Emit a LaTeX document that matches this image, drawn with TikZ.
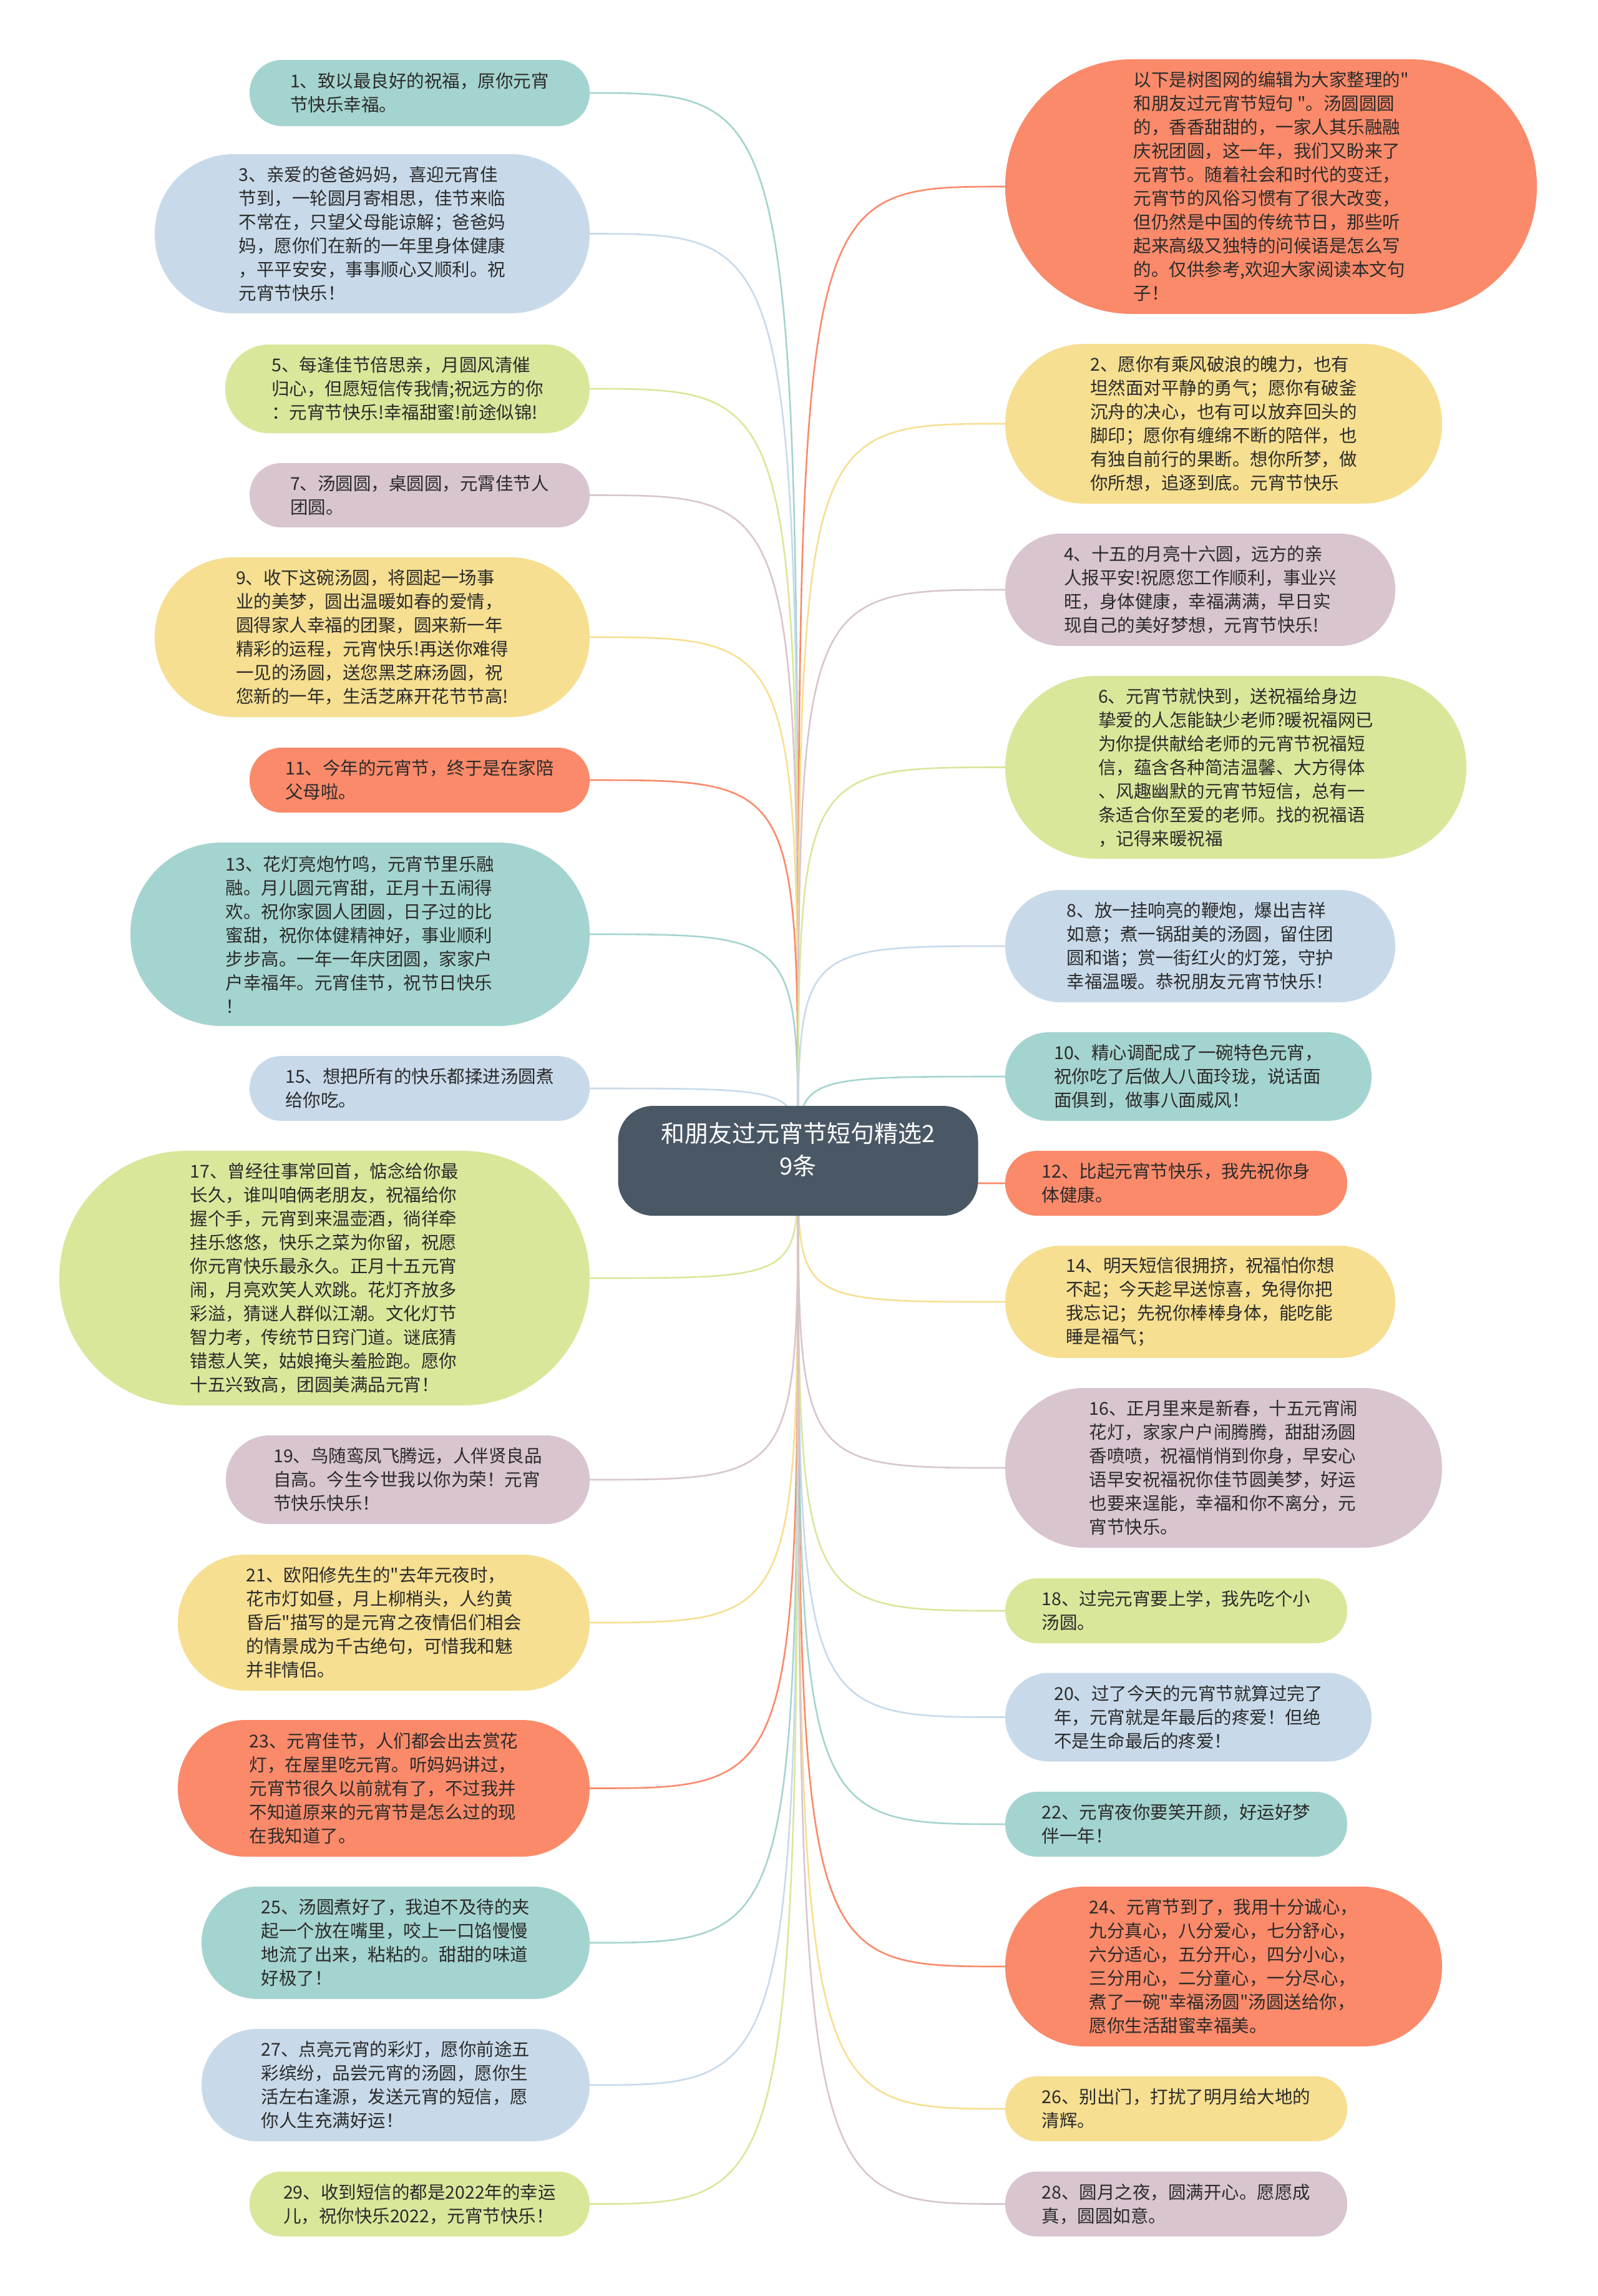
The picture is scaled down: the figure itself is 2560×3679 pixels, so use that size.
\documentclass[tikz,border=0pt]{standalone}
\usepackage{fontspec}
\setmainfont{Noto Sans CJK SC}
\newfontfamily\zh{Noto Sans CJK SC}
\usetikzlibrary{backgrounds}
\definecolor{cTeal}{HTML}{A4D4CF}
\definecolor{cBlue}{HTML}{C8DAEA}
\definecolor{cGreen}{HTML}{D9E79B}
\definecolor{cMauve}{HTML}{D8C5D0}
\definecolor{cYellow}{HTML}{F6DF91}
\definecolor{cOrange}{HTML}{FA8A6A}
\definecolor{cRoot}{HTML}{4A5866}
\definecolor{cText}{HTML}{2B2B2B}
\tikzset{
  leaf/.style={align=left, inner sep=0pt, text=cText, font=\zh\fontsize{28.5}{38}\selectfont},
  pill/.style 2 args={leaf, minimum width=#1, minimum height=#2, rounded corners=#2/2-1},
  rootbox/.style={align=center, inner sep=0pt, text=white, fill=cRoot, minimum width=577, minimum height=176, rounded corners=56, font=\zh\fontsize{38}{52}\selectfont},
  link/.style={line width=2.6pt}
}
\begin{document}
\begin{tikzpicture}[x=1pt,y=-1pt]
\useasboundingbox (0,0) rectangle (2560,3679);
% root
\node[rootbox] (root) at (1279,1860) {和朋友过元宵节短句精选2\\9条\rule[-40pt]{0pt}{0pt}};
% left column
\node[pill={545}{106}, fill=cTeal] (n1) at (672.5,149) {1、致以最良好的祝福，原你元宵\\节快乐幸福。};
\node[pill={697}{255}, fill=cBlue] (n3) at (596.5,374.5) {3、亲爱的爸爸妈妈，喜迎元宵佳\\节到，一轮圆月寄相思，佳节来临\\不常在，只望父母能谅解；爸爸妈\\妈，愿你们在新的一年里身体健康\\，平平安安，事事顺心又顺利。祝\\元宵节快乐！};
\node[pill={584}{142}, fill=cGreen] (n5) at (653,623) {5、每逢佳节倍思亲，月圆风清催\\归心，但愿短信传我情;祝远方的你\\：元宵节快乐!幸福甜蜜!前途似锦!};
\node[pill={545}{103}, fill=cMauve] (n7) at (672.5,793.5) {7、汤圆圆，桌圆圆，元霄佳节人\\团圆。};
\node[pill={697}{256}, fill=cYellow] (n9) at (596.5,1021) {9、收下这碗汤圆，将圆起一场事\\业的美梦，圆出温暖如春的爱情，\\圆得家人幸福的团聚，圆来新一年\\精彩的运程，元宵快乐!再送你难得\\一见的汤圆，送您黑芝麻汤圆，祝\\您新的一年，生活芝麻开花节节高!};
\node[pill={545}{104}, fill=cOrange] (n11) at (672.5,1250) {11、今年的元宵节，终于是在家陪\\父母啦。};
\node[pill={736}{294}, fill=cTeal] (n13) at (577,1497) {13、花灯亮炮竹鸣，元宵节里乐融\\融。月儿圆元宵甜，正月十五闹得\\欢。祝你家圆人团圆，日子过的比\\蜜甜，祝你体健精神好，事业顺利\\步步高。一年一年庆团圆，家家户\\户幸福年。元宵佳节，祝节日快乐\\！};
\node[pill={545}{104}, fill=cBlue] (n15) at (672.5,1744) {15、想把所有的快乐都揉进汤圆煮\\给你吃。};
\node[pill={850}{408}, fill=cGreen] (n17) at (520,2048) {17、曾经往事常回首，惦念给你最\\长久，谁叫咱俩老朋友，祝福给你\\握个手，元宵到来温壶酒，徜徉牵\\挂乐悠悠，快乐之菜为你留，祝愿\\你元宵快乐最永久。正月十五元宵\\闹，月亮欢笑人欢跳。花灯齐放多\\彩溢，猜谜人群似江潮。文化灯节\\智力考，传统节日窍门道。谜底猜\\错惹人笑，姑娘掩头羞脸跑。愿你\\十五兴致高，团圆美满品元宵！};
\node[pill={583}{142}, fill=cMauve] (n19) at (653.5,2371) {19、鸟随鸾凤飞腾远，人伴贤良品\\自高。今生今世我以你为荣！元宵\\节快乐快乐！};
\node[pill={660}{218}, fill=cYellow] (n21) at (615,2600) {21、欧阳修先生的"去年元夜时，\\花市灯如昼，月上柳梢头，人约黄\\昏后"描写的是元宵之夜情侣们相会\\的情景成为千古绝句，可惜我和魅\\并非情侣。};
\node[pill={660}{219}, fill=cOrange] (n23) at (615,2865.5) {23、元宵佳节，人们都会出去赏花\\灯，在屋里吃元宵。听妈妈讲过，\\元宵节很久以前就有了，不过我并\\不知道原来的元宵节是怎么过的现\\在我知道了。};
\node[pill={622}{180}, fill=cTeal] (n25) at (634,3113) {25、汤圆煮好了，我迫不及待的夹\\起一个放在嘴里，咬上一口馅慢慢\\地流了出来，粘粘的。甜甜的味道\\好极了！};
\node[pill={622}{180}, fill=cBlue] (n27) at (634,3341) {27、点亮元宵的彩灯，愿你前途五\\彩缤纷，品尝元宵的汤圆，愿你生\\活左右逢源，发送元宵的短信，愿\\你人生充满好运！};
\node[pill={545}{104}, fill=cGreen] (n29) at (672.5,3531.5) {29、收到短信的都是2022年的幸运\\儿，祝你快乐2022，元宵节快乐！};
% right column
\node[pill={852}{408}, fill=cOrange] (n0) at (2037,299) {以下是树图网的编辑为大家整理的"\\和朋友过元宵节短句 "。汤圆圆圆\\的，香香甜甜的，一家人其乐融融\\庆祝团圆，这一年，我们又盼来了\\元宵节。随着社会和时代的变迁，\\元宵节的风俗习惯有了很大改变，\\但仍然是中国的传统节日，那些听\\起来高级又独特的问候语是怎么写\\的。仅供参考,欢迎大家阅读本文句\\子！};
\node[pill={700}{256}, fill=cYellow] (n2) at (1961,679) {2、愿你有乘风破浪的魄力，也有\\坦然面对平静的勇气；愿你有破釜\\沉舟的决心，也有可以放弃回头的\\脚印；愿你有缠绵不断的陪伴，也\\有独自前行的果断。想你所梦，做\\你所想，追逐到底。元宵节快乐};
\node[pill={625}{180}, fill=cMauve] (n4) at (1923.5,945) {4、十五的月亮十六圆，远方的亲\\人报平安!祝愿您工作顺利，事业兴\\旺，身体健康，幸福满满，早日实\\现自己的美好梦想，元宵节快乐!};
\node[pill={739}{293}, fill=cGreen] (n6) at (1980.5,1229.5) {6、元宵节就快到，送祝福给身边\\挚爱的人怎能缺少老师?暖祝福网已\\为你提供献给老师的元宵节祝福短\\信，蕴含各种简洁温馨、大方得体\\、风趣幽默的元宵节短信，总有一\\条适合你至爱的老师。找的祝福语\\，记得来暖祝福};
\node[pill={625}{180}, fill=cBlue] (n8) at (1923.5,1516) {8、放一挂响亮的鞭炮，爆出吉祥\\如意；煮一锅甜美的汤圆，留住团\\圆和谐；赏一街红火的灯笼，守护\\幸福温暖。恭祝朋友元宵节快乐！};
\node[pill={587}{142}, fill=cTeal] (n10) at (1904.5,1725) {10、精心调配成了一碗特色元宵，\\祝你吃了后做人八面玲珑，说话面\\面俱到，做事八面威风！};
\node[pill={548}{104}, fill=cOrange] (n12) at (1885,1896) {12、比起元宵节快乐，我先祝你身\\体健康。};
\node[pill={625}{180}, fill=cYellow] (n14) at (1923.5,2086) {14、明天短信很拥挤，祝福怕你想\\不起；今天趁早送惊喜，免得你把\\我忘记；先祝你棒棒身体，能吃能\\睡是福气；};
\node[pill={700}{256}, fill=cMauve] (n16) at (1961,2352) {16、正月里来是新春，十五元宵闹\\花灯，家家户户闹腾腾，甜甜汤圆\\香喷喷，祝福悄悄到你身，早安心\\语早安祝福祝你佳节圆美梦，好运\\也要来逞能，幸福和你不离分，元\\宵节快乐。};
\node[pill={548}{104}, fill=cGreen] (n18) at (1885,2581) {18、过完元宵要上学，我先吃个小\\汤圆。};
\node[pill={587}{142}, fill=cBlue] (n20) at (1904.5,2751.5) {20、过了今天的元宵节就算过完了\\年，元宵就是年最后的疼爱！但绝\\不是生命最后的疼爱！};
\node[pill={548}{104}, fill=cTeal] (n22) at (1885,2923) {22、元宵夜你要笑开颜，好运好梦\\伴一年！};
\node[pill={700}{256}, fill=cOrange] (n24) at (1961,3151) {24、元宵节到了，我用十分诚心，\\九分真心，八分爱心，七分舒心，\\六分适心，五分开心，四分小心，\\三分用心，二分童心，一分尽心，\\煮了一碗"幸福汤圆"汤圆送给你，\\愿你生活甜蜜幸福美。};
\node[pill={548}{104}, fill=cYellow] (n26) at (1885,3379) {26、别出门，打扰了明月给大地的\\清辉。};
\node[pill={548}{104}, fill=cMauve] (n28) at (1885,3531.5) {28、圆月之夜，圆满开心。愿愿成\\真，圆圆如意。};
% connectors
\begin{scope}[on background layer]
\fill[white] (0,0) rectangle (2560,3679);
\foreach \n/\c in {n1/cTeal,n3/cBlue,n5/cGreen,n7/cMauve,n9/cYellow,n11/cOrange,n13/cTeal,n15/cBlue,n17/cGreen,n19/cMauve,n21/cYellow,n23/cOrange,n25/cTeal,n27/cBlue,n29/cGreen}
  \draw[link, \c] (root.center) .. controls (root.center |- \n.east) .. (\n.east);
\foreach \n/\c in {n0/cOrange,n2/cYellow,n4/cMauve,n6/cGreen,n8/cBlue,n10/cTeal,n12/cOrange,n14/cYellow,n16/cMauve,n18/cGreen,n20/cBlue,n22/cTeal,n24/cOrange,n26/cYellow,n28/cMauve}
  \draw[link, \c] (root.center) .. controls (root.center |- \n.west) .. (\n.west);
\end{scope}
\end{tikzpicture}
\end{document}
